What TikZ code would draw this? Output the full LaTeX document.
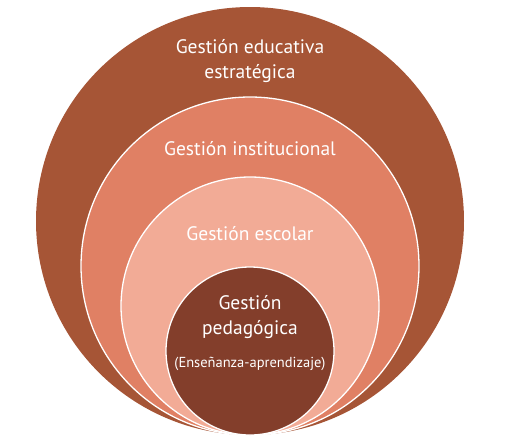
\documentclass[tikz,border=0pt]{standalone}
\usepackage{fontspec}
\setmainfont{PT Sans}
\definecolor{outerbrown}{RGB}{166,85,54}
\definecolor{midsalmon}{RGB}{224,128,100}
\definecolor{lightsalmon}{RGB}{242,171,150}
\definecolor{darkbrown}{RGB}{131,62,43}
\begin{document}
\begin{tikzpicture}[x=1pt, y=-1pt,
  ring/.style={circle, draw=white, line width=1.3pt, inner sep=0pt},
  label/.style={text=white, align=center, font=\fontsize{19.5}{24.5}\selectfont}]

\useasboundingbox (0,0) rectangle (506,445);

% draw the four circles, all touching at the bottom
\node[ring, draw=none, fill=outerbrown, minimum size=428pt] (estrategica) at (250,221) {};
\node[ring, fill=midsalmon, minimum size=338pt] (institucional) at (250,266) {};
\node[ring, fill=lightsalmon, minimum size=258pt] (escolar) at (250,306) {};
\node[ring, fill=darkbrown, minimum size=168pt] (pedagogica) at (250,351) {};

% labels
\node[label] (t_estrategica) at (250,61) {Gestión educativa\\estratégica};
\node[label] (t_institucional) at (250,149) {Gestión institucional};
\node[label] (t_escolar) at (250,234) {Gestión escolar};
\node[label] (t_pedagogica) at (250,317) {Gestión\\pedagógica};
\node[label, font=\fontsize{14.5}{17}\selectfont] (t_ensenanza) at (250,364) {(Enseñanza-aprendizaje)};

\end{tikzpicture}
\end{document}
